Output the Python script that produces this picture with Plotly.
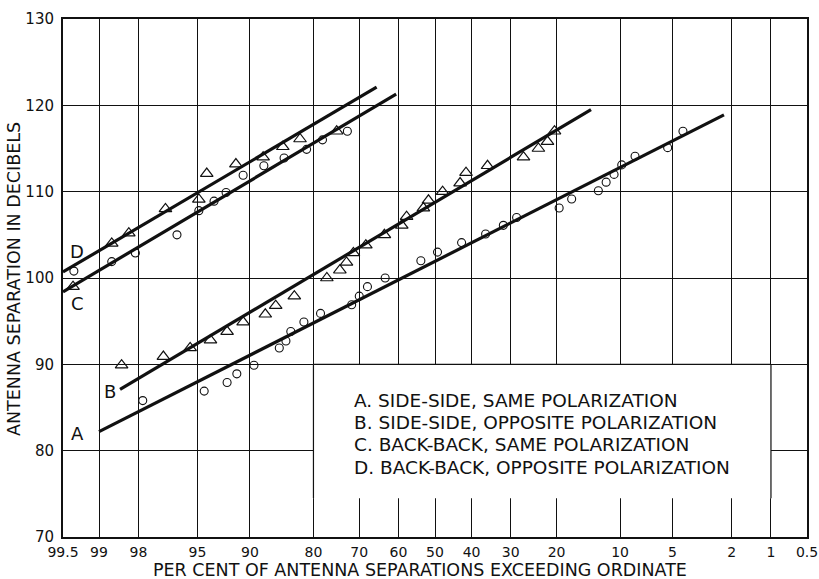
import plotly.graph_objects as go
from statistics import NormalDist

ND = NormalDist()

def zpos(p):
    # normal-probability position for "per cent exceeding"
    return ND.inv_cdf(1 - p / 100.0)

# ---------------- data ----------------
tick_pct = [99.5, 99, 98, 95, 90, 80, 70, 60, 50, 40, 30, 20, 10, 5, 2, 1, 0.5]
tick_labels = ["99.5", "99", "98", "95", "90", "80", "70", "60", "50", "40",
               "30", "20", "10", "5", "2", "1", "0.5"]
y_ticks = [70, 80, 90, 100, 110, 120, 130]

# A: side-side, same polarization (circles)
a_pct = [97.85, 94.5, 92.5, 91.5, 89.5, 85.95, 84.9, 84.1, 81.8, 78.6, 71.8, 70.0,
         68.0, 63.5, 53.9, 49.3, 42.7, 36.3, 31.8, 28.6, 19.5, 17.2, 12.9, 11.8,
         10.75, 9.8, 8.3, 5.36, 4.3]
a_db = [85.8, 86.9, 87.9, 88.9, 89.9, 91.9, 92.7, 93.8, 94.9, 95.9, 96.9, 97.9,
        99.0, 100.0, 102.0, 103.0, 104.1, 105.1, 106.1, 107.0, 108.1, 109.15, 110.1,
        111.1, 112.0, 113.1, 114.1, 115.1, 117.0]

# B: side-side, opposite polarization (triangles)
b_pct = [98.5, 97.0, 95.5, 94.0, 92.5, 90.8, 88.0, 86.5, 83.5, 77.3, 74.5, 73.0,
         71.4, 68.4, 63.7, 59.1, 57.8, 53.2, 51.8, 47.9, 43.1, 41.5, 35.8, 27.0,
         23.7, 21.8, 20.4]
b_db = [89.9, 90.9, 91.9, 92.8, 93.8, 94.9, 95.8, 96.8, 97.9, 100.0, 100.9, 101.8,
        102.9, 103.8, 105.0, 106.1, 107.1, 108.1, 109.0, 110.0, 111.0, 112.2, 113.0,
        114.0, 115.0, 115.8, 117.0]

# C: back-back, same polarization (circles)
c_pct = [99.38, 98.74, 98.1, 96.3, 94.9, 93.7, 92.6, 90.8, 88.2, 85.2, 81.3, 78.2, 72.8]
c_db = [100.8, 101.9, 102.9, 105.0, 107.8, 108.9, 109.9, 111.9, 113.0, 113.9, 114.9,
        116.0, 117.0]

# D: back-back, opposite polarization (triangles)
d_pct = [99.39, 98.74, 98.3, 96.9, 94.9, 94.3, 91.6, 88.3, 85.4, 82.5, 75.2]
d_db = [99.0, 104.0, 105.2, 108.0, 109.1, 112.1, 113.2, 114.0, 115.2, 116.1, 117.0]

# fitted straight lines (end points)
line_a_pct = [99.0, 2.27]
line_a_db = [82.2, 118.9]
line_b_pct = [98.54, 14.0]
line_b_db = [87.1, 119.5]
line_c_pct = [99.5, 60.6]
line_c_db = [98.4, 121.3]
line_d_pct = [99.5, 65.7]
line_d_db = [100.7, 122.1]

curve_letters = ["D", "C", "B", "A"]
letter_pct = [99.34, 99.34, 98.78, 99.33]
letter_db = [103.1, 97.1, 86.8, 82.0]

legend_lines = ["A. SIDE-SIDE, SAME POLARIZATION",
                "B. SIDE-SIDE, OPPOSITE POLARIZATION",
                "C. BACK-BACK, SAME POLARIZATION",
                "D. BACK-BACK, OPPOSITE POLARIZATION"]
legend_box_pct = [80, 1]
legend_box_db = [74.5, 90]

FONT = "DejaVu Sans"
INK = "#111111"

# plot box in page pixels
PL, PR, PT, PB = 63, 807, 19, 537
PW, PH = PR - PL, PB - PT
W, H = 819, 579

fig = go.Figure()

for lp, ld in [(line_a_pct, line_a_db), (line_b_pct, line_b_db),
               (line_c_pct, line_c_db), (line_d_pct, line_d_db)]:
    fig.add_trace(go.Scatter(x=[zpos(p) for p in lp], y=ld, mode="lines",
                             line=dict(color=INK, width=3.2), showlegend=False,
                             hoverinfo="skip"))

for pc, db in [(a_pct, a_db), (c_pct, c_db)]:
    fig.add_trace(go.Scatter(x=[zpos(p) for p in pc], y=db, mode="markers",
                             marker=dict(symbol="circle-open", size=8,
                                         color=INK, line=dict(width=1.1, color=INK)),
                             showlegend=False))
for pc, db in [(b_pct, b_db), (d_pct, d_db)]:
    fig.add_trace(go.Scatter(x=[zpos(p) for p in pc], y=db, mode="markers",
                             marker=dict(symbol="triangle-up-open", size=11,
                                         color=INK, line=dict(width=1.2, color=INK)),
                             showlegend=False))

# legend box (white patch over the grid)
x0, x1 = zpos(legend_box_pct[0]), zpos(legend_box_pct[1])
y0, y1 = legend_box_db
fig.add_shape(type="rect", x0=x0, x1=x1, y0=y0, y1=y1, xref="x", yref="y",
              fillcolor="white", line=dict(width=0), layer="above")
for (xa, ya, xb, yb) in [(x0, y0, x0, y1), (x0, y1, x1, y1), (x1, y0, x1, y1)]:
    fig.add_shape(type="line", x0=xa, y0=ya, x1=xb, y1=yb, xref="x", yref="y",
                  line=dict(color=INK, width=1.2), layer="above")

legend_y_px = [400, 422, 444, 467]
for txt, ypx in zip(legend_lines, legend_y_px):
    fig.add_annotation(text=txt, xref="paper", yref="paper",
                       x=(352 - PL) / PW, y=(PB - ypx) / PH,
                       xanchor="left", yanchor="middle", showarrow=False,
                       font=dict(family=FONT, size=18.5, color=INK))

for t, p, d in zip(curve_letters, letter_pct, letter_db):
    fig.add_annotation(text=t, x=zpos(p), y=d, xref="x", yref="y",
                       showarrow=False, xanchor="center", yanchor="middle",
                       font=dict(family=FONT, size=18, color=INK))

# axis titles
fig.add_annotation(text="PER CENT OF ANTENNA SEPARATIONS EXCEEDING ORDINATE",
                   xref="paper", yref="paper", x=(420 - PL) / PW, y=0,
                   yanchor="middle", yshift=-(570 - PB), showarrow=False,
                   font=dict(family=FONT, size=17.5, color=INK))
fig.add_annotation(text="ANTENNA SEPARATION IN DECIBELS",
                   xref="paper", yref="paper", x=0, y=(PB - 279) / PH,
                   xshift=-(PL - 14), xanchor="center", yanchor="middle",
                   textangle=-90, showarrow=False,
                   font=dict(family=FONT, size=17.5, color=INK))

zr = zpos(99.5)
fig.update_xaxes(range=[zr, -zr], tickvals=[zpos(p) for p in tick_pct],
                 ticktext=tick_labels, showgrid=True, gridcolor=INK, gridwidth=1.1,
                 zeroline=False, showline=True, linecolor=INK, linewidth=2,
                 mirror=True, ticks="", ticklabelstandoff=1, automargin=False,
                 tickfont=dict(family=FONT, size=14, color=INK))
fig.update_yaxes(range=[70, 130], tickvals=y_ticks, showgrid=True, gridcolor=INK,
                 gridwidth=1.1, zeroline=False, showline=True, linecolor=INK,
                 linewidth=2, mirror=True, ticks="", ticklabelstandoff=4,
                 automargin=False,
                 tickfont=dict(family=FONT, size=15, color=INK))

fig.update_layout(width=W, height=H, plot_bgcolor="white", paper_bgcolor="white",
                  margin=dict(l=PL, r=W - PR, t=PT, b=H - PB, autoexpand=False),
                  showlegend=False)

fig.write_html("out.html",
               config={"displayModeBar": False},
               post_script="document.body.style.margin='0';"
                           "document.body.style.padding='0';"
                           "document.body.style.overflow='hidden';")
